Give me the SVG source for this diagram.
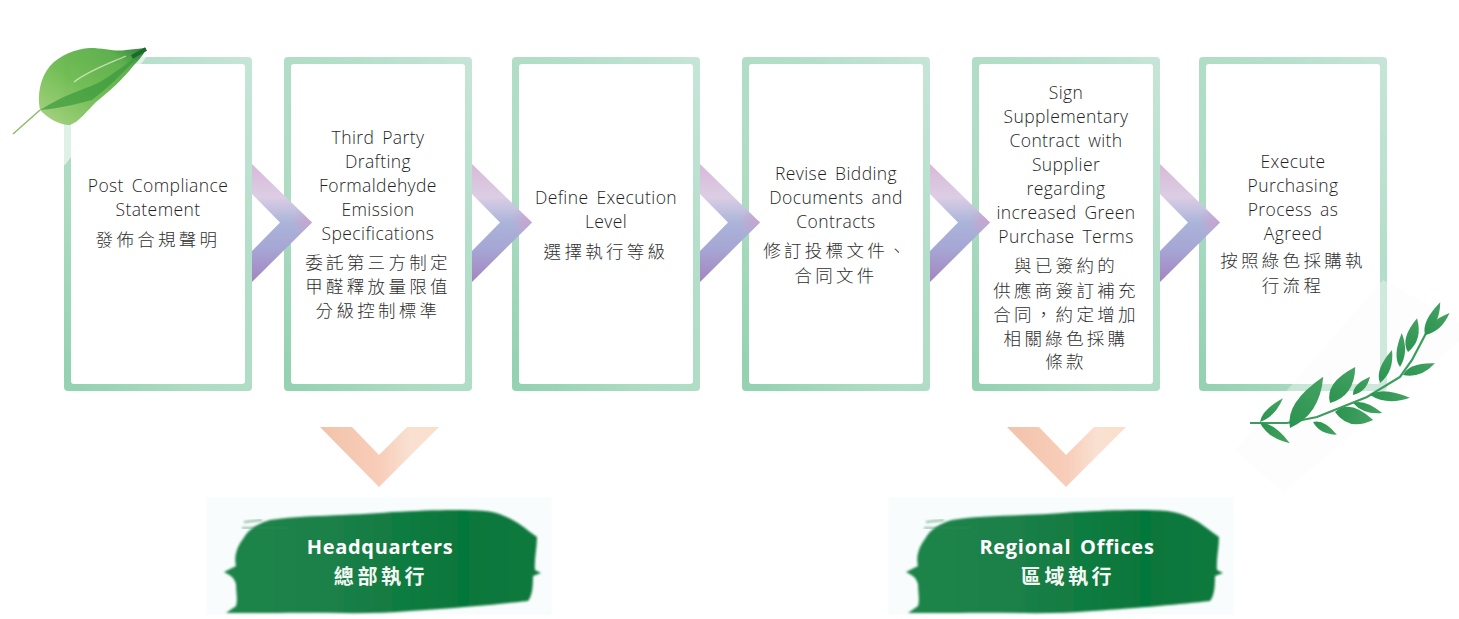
<svg xmlns="http://www.w3.org/2000/svg" width="1459" height="619" viewBox="0 0 1459 619">
<style>
text{text-anchor:middle}
.en{font:300 17.5px "Open Sans","Noto Sans",sans-serif;fill:#1f1f1f;word-spacing:3px;letter-spacing:.4px}
.zh{font:300 17.5px "Noto Sans CJK TC","Noto Sans",sans-serif;fill:#2f2f2f;letter-spacing:3.3px}
.wen{font:700 20px "Open Sans","Noto Sans",sans-serif;fill:#fff;word-spacing:3px;letter-spacing:.7px}
.wzh{font:700 20px "Noto Sans CJK TC","Noto Sans",sans-serif;fill:#f4f8f4;letter-spacing:3.6px}
.frame{fill:url(#fg)}
.inner{fill:#fff}
.tw{fill:url(#tg)}
</style>
<defs>
<linearGradient id="fg" x1="1" y1="0" x2="0.1" y2="1">
<stop offset="0" stop-color="#c6e5d8"/><stop offset=".35" stop-color="#b3dec9"/><stop offset=".7" stop-color="#aedcc3"/><stop offset="1" stop-color="#94d2b2"/>
</linearGradient>
<linearGradient id="cg" x1="0" y1="0" x2="0" y2="1">
<stop offset="0" stop-color="#d8b9d8"/><stop offset=".28" stop-color="#dccde4"/><stop offset=".5" stop-color="#aab4da"/><stop offset=".72" stop-color="#a6a6d4"/><stop offset="1" stop-color="#a484c0"/>
</linearGradient>
<radialGradient id="tip" gradientUnits="userSpaceOnUse" cx="55" cy="58" r="16">
<stop offset="0" stop-color="#cfa0cb" stop-opacity=".75"/><stop offset="1" stop-color="#cfa0cb" stop-opacity="0"/>
</radialGradient>
<linearGradient id="pg" x1="0" y1="0" x2="1" y2="0">
<stop offset="0" stop-color="#f2c3aa"/><stop offset=".5" stop-color="#f8cdb9"/><stop offset=".75" stop-color="#f9e0d0"/><stop offset="1" stop-color="#fbdfcd"/>
</linearGradient>
<linearGradient id="bg" x1="0" y1="0" x2="1" y2="0">
<stop offset="0" stop-color="#1d8549"/><stop offset=".35" stop-color="#1b8048"/><stop offset=".75" stop-color="#06773a"/><stop offset="1" stop-color="#0e7a3f"/>
</linearGradient>
<linearGradient id="lg" x1="0" y1="1" x2="1" y2="0">
<stop offset="0" stop-color="#a8d27e"/><stop offset=".45" stop-color="#6cbb4e"/><stop offset=".8" stop-color="#58ac46"/><stop offset="1" stop-color="#1e7a32"/>
</linearGradient>
<linearGradient id="tg" x1="0" y1="0" x2="1" y2="0">
<stop offset="0" stop-color="#2a9350"/><stop offset="1" stop-color="#45a262"/>
</linearGradient>
<filter id="soft" x="-5%" y="-5%" width="110%" height="110%"><feGaussianBlur stdDeviation="1.100"/></filter>
<filter id="soft2" x="-10%" y="-10%" width="120%" height="120%"><feGaussianBlur stdDeviation=".4"/></filter>
<g id="chev">
<path d="M0 0L60 58.500 0 118V87L28 58.500 0 30Z" fill="url(#cg)"/>
<path d="M0 0L60 58.500 0 118V87L28 58.500 0 30Z" fill="url(#tip)"/>
</g>
<path id="pchev" d="M0 0H32L59 28 87 0H119L59 60Z" fill="url(#pg)"/>
<path id="lf" d="M0 0Q.3-.6 1 0Q.45.6 0 0Z" class="tw"/>
<g id="brush">
<rect x="206" y="497" width="346" height="118" fill="#f6fbfb" opacity=".6" filter="url(#soft)"/>
<path filter="url(#soft)" fill="url(#bg)" d="M224 572L236 566C234 558 236 548 243 539 248 530 256 524 270 520 300 515 350 516 392 512 430 510 460 509 485 511 505 513 520 524 530 532L537 537C537 548 534 560 535 570L541 573 533 576C533 588 532 596 528 601 500 604 458 608 410 611 370 615 320 612 278 613L226 613 236 606C238 600 236 592 236 584 234 578 232 576 224 572Z"/>
<path filter="url(#soft)" d="M242 528H290M244 522L262 520" stroke="#2d8a55" stroke-width="1.500" opacity=".7"/>
</g>
</defs>

<g id="node-post-compliance">
<rect class="frame" x="64" y="57" width="188" height="334" rx="4"/><rect class="inner" x="71" y="64" width="174" height="320" rx="3"/>
<text class="en" x="158" y="192">Post Compliance</text>
<text class="en" x="158" y="216">Statement</text>
<text class="zh" x="158" y="246">發佈合規聲明</text>
</g>
<g id="node-third-party">
<rect class="frame" x="284" y="57" width="188" height="334" rx="4"/><rect class="inner" x="291" y="64" width="174" height="320" rx="3"/>
<text class="en" x="378" y="144">Third Party</text>
<text class="en" x="378" y="168">Drafting</text>
<text class="en" x="378" y="192">Formaldehyde</text>
<text class="en" x="378" y="216">Emission</text>
<text class="en" x="378" y="240">Specifications</text>
<text class="zh" x="378" y="269">委託第三方制定</text>
<text class="zh" x="378" y="293">甲醛釋放量限值</text>
<text class="zh" x="378" y="317">分級控制標準</text>
</g>
<g id="node-define-level">
<rect class="frame" x="512" y="57" width="188" height="334" rx="4"/><rect class="inner" x="519" y="64" width="174" height="320" rx="3"/>
<text class="en" x="606" y="204">Define Execution</text>
<text class="en" x="606" y="228">Level</text>
<text class="zh" x="606" y="258">選擇執行等級</text>
</g>
<g id="node-revise-documents">
<rect class="frame" x="742" y="57" width="188" height="334" rx="4"/><rect class="inner" x="749" y="64" width="174" height="320" rx="3"/>
<text class="en" x="836" y="180">Revise Bidding</text>
<text class="en" x="836" y="204">Documents and</text>
<text class="en" x="836" y="228">Contracts</text>
<text class="zh" x="836" y="257">修訂投標文件、</text>
<text class="zh" x="836" y="282">合同文件</text>
</g>
<g id="node-supplementary">
<rect class="frame" x="972" y="57" width="188" height="334" rx="4"/><rect class="inner" x="979" y="64" width="174" height="320" rx="3"/>
<text class="en" x="1066" y="99">Sign</text>
<text class="en" x="1066" y="123">Supplementary</text>
<text class="en" x="1066" y="147">Contract with</text>
<text class="en" x="1066" y="171">Supplier</text>
<text class="en" x="1066" y="195">regarding</text>
<text class="en" x="1066" y="219">increased Green</text>
<text class="en" x="1066" y="243">Purchase Terms</text>
<text class="zh" x="1066" y="272">與已簽約的</text>
<text class="zh" x="1066" y="297">供應商簽訂補充</text>
<text class="zh" x="1066" y="321">合同，約定增加</text>
<text class="zh" x="1066" y="345">相關綠色採購</text>
<text class="zh" x="1066" y="368">條款</text>
</g>
<g id="node-execute">
<rect class="frame" x="1199" y="57" width="188" height="334" rx="4"/><rect class="inner" x="1206" y="64" width="174" height="320" rx="3"/>
<text class="en" x="1293" y="168">Execute</text>
<text class="en" x="1293" y="192">Purchasing</text>
<text class="en" x="1293" y="216">Process as</text>
<text class="en" x="1293" y="240">Agreed</text>
<text class="zh" x="1293" y="267">按照綠色採購執</text>
<text class="zh" x="1293" y="292">行流程</text>
</g>

<g id="connectors">
<use href="#chev" x="252" y="164"/>
<use href="#chev" x="472" y="164"/>
<use href="#chev" x="700" y="164"/>
<use href="#chev" x="930" y="164"/>
<use href="#chev" x="1160" y="164"/>
<use href="#pchev" x="320" y="427"/>
<use href="#pchev" x="1007" y="427"/>
</g>

<g id="node-headquarters">
<use href="#brush"/>
<text class="wen" x="380" y="554">Headquarters</text>
<text class="wzh" x="381" y="584">總部執行</text>
</g>
<g id="node-regional-offices">
<use href="#brush" x="682"/>
<text class="wen" x="1067" y="554">Regional Offices</text>
<text class="wzh" x="1068" y="584">區域執行</text>
</g>

<g id="leaf">
<path d="M60 20L153 48 65 165 2 133Z" fill="#fff" opacity=".6"/>
<path d="M13 134L40 110" stroke="#8dbb6c" stroke-width="1.500" fill="none"/>
<path filter="url(#soft2)" fill="url(#lg)" opacity=".95" d="M40 110C37 95 40 78 50 66 60 55 75 49 90 48 105 48 115 52 126 50L146 48C144 56 136 62 130 70 118 84 106 94 96 102 86 112 80 121 70 125 58 125 48 118 40 110Z"/>
<path filter="url(#soft2)" d="M146 49C128 62 112 76 96 84 82 90 66 94 40 110 62 108 76 104 92 100 108 88 124 72 146 49Z" fill="#3b9a3e" opacity=".7"/>
<path d="M126 56C108 64 90 70 74 82" stroke="#e2f0cf" stroke-width="1.300" fill="none" opacity=".75"/>
<path d="M146 49L132 57" stroke="#1c6a2c" stroke-width="4" fill="none"/>
</g>

<g id="twig">
<path d="M1383 280L1459 322V342L1283 493 1235 450Z" fill="#fafafa" opacity=".4"/>
<path d="M1250 423L1287 423 1317 417 1367 397 1400 377 1412 360 1433 320" stroke="#3b9d5c" stroke-width="2.200" fill="none"/>
<g filter="url(#soft2)">
<use href="#lf" transform="translate(1425 335) rotate(-42) scale(33 14)"/>
<use href="#lf" transform="translate(1425 335) rotate(-65) scale(36 15)"/>
<use href="#lf" transform="translate(1408 352) rotate(-75) scale(35 19)"/>
<use href="#lf" transform="translate(1400 367) rotate(-87) scale(34 14)"/>
<use href="#lf" transform="translate(1380 383) rotate(-70) scale(35 16)"/>
<use href="#lf" transform="translate(1403 375) rotate(-20) scale(34 16)"/>
<use href="#lf" transform="translate(1370 395) rotate(4) scale(40 16)"/>
<use href="#lf" transform="translate(1353 403) rotate(19) scale(31 13)"/>
<use href="#lf" transform="translate(1335 412) rotate(12) scale(39 27)"/>
<use href="#lf" transform="translate(1330 403) rotate(-55) scale(44 27)"/>
<use href="#lf" transform="translate(1353 395) rotate(-47) scale(25 13)"/>
<use href="#lf" transform="translate(1290 428) rotate(-57) scale(61 30)"/>
<use href="#lf" transform="translate(1313 422) rotate(28) scale(27 13)"/>
<use href="#lf" transform="translate(1260 422) rotate(-46) scale(33 12)"/>
<use href="#lf" transform="translate(1260 423) rotate(34) scale(36 14)"/>
</g>
</g>
</svg>
